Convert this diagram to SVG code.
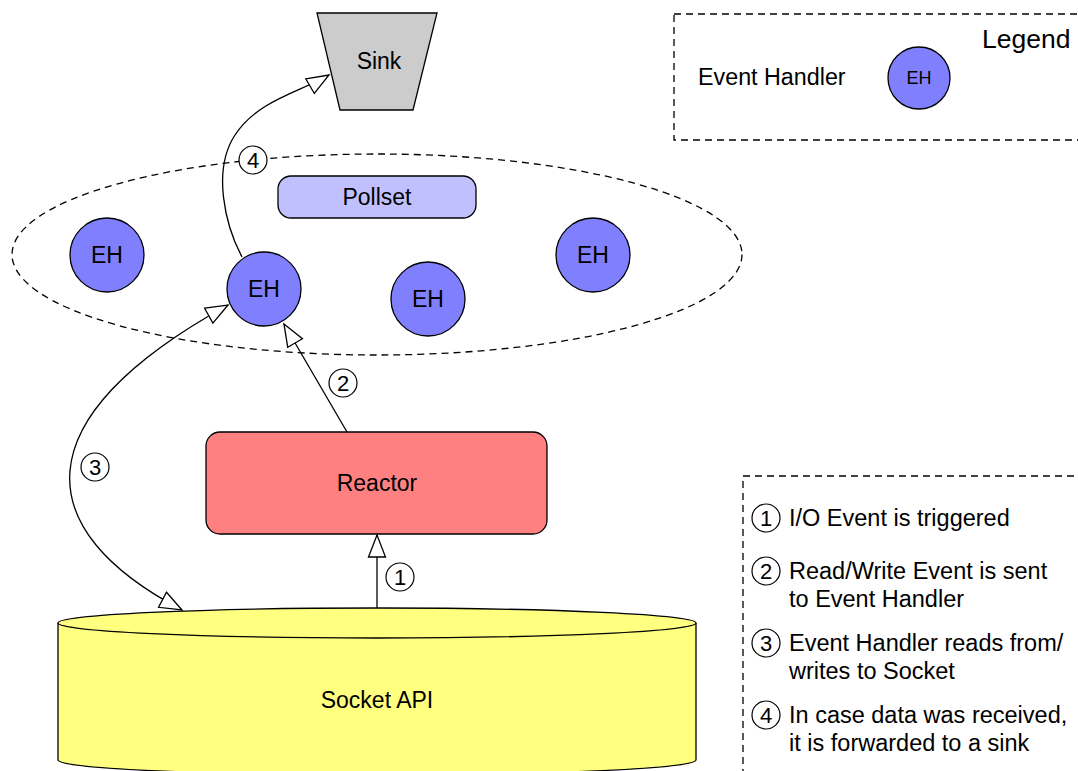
<svg xmlns="http://www.w3.org/2000/svg" width="1078" height="771" viewBox="0 0 1078 771">
  <style>
    text { font-family: "Liberation Sans", Arial, sans-serif; fill: #000; }
    .lbl { font-size: 23px; text-anchor: middle; dominant-baseline: central; }
    .eh { fill: #8080ff; stroke: #000; stroke-width: 1.3; }
    .dash { fill: none; stroke: #000; stroke-width: 1.3; stroke-dasharray: 7 5; }
    .conn { fill: none; stroke: #000; stroke-width: 1.3; }
    .num { fill: #fff; stroke: #000; stroke-width: 1.2; }
    .numt { font-size: 22px; text-anchor: middle; dominant-baseline: central; }
    .note { font-size: 23.5px; }
  </style>
  <defs>
    <marker id="arr" markerUnits="userSpaceOnUse" markerWidth="26" markerHeight="22" viewBox="0 0 26 22" refX="23" refY="10" orient="auto-start-reverse">
      <path d="M1,1.5 L23,10 L1,18.5 z" fill="#fff" stroke="#000" stroke-width="1.3"/>
    </marker>
  </defs>
  <rect width="1078" height="771" fill="#fff"/>

  <g id="pollset-group">
    <ellipse cx="377" cy="254.5" rx="365" ry="100.5" class="dash"/>
  </g>

  <g id="legend">
    <rect x="674" y="14" width="430" height="126" class="dash"/>
    <text x="982" y="48" style="font-size:26.5px">Legend</text>
    <text x="698" y="85" style="font-size:23.3px">Event Handler</text>
    <circle cx="919" cy="78" r="31" class="eh"/>
    <text x="919" y="78" class="lbl" style="font-size:18px">EH</text>
  </g>

  <g id="notes">
    <rect x="743" y="476" width="400" height="320" class="dash"/>
    <circle cx="766" cy="518" r="14" class="num"/><text x="766" y="518" class="numt">1</text>
    <text x="789" y="526" class="note">I/O Event is triggered</text>
    <circle cx="766" cy="571" r="14" class="num"/><text x="766" y="571" class="numt">2</text>
    <text x="789" y="579" class="note">Read/Write Event is sent</text>
    <text x="789" y="607" class="note">to Event Handler</text>
    <circle cx="766" cy="643" r="14" class="num"/><text x="766" y="643" class="numt">3</text>
    <text x="789" y="651" class="note">Event Handler reads from/</text>
    <text x="789" y="679" class="note">writes to Socket</text>
    <circle cx="766" cy="715" r="14" class="num"/><text x="766" y="715" class="numt">4</text>
    <text x="789" y="723" class="note">In case data was received,</text>
    <text x="789" y="751" class="note">it is forwarded to a sink</text>
  </g>

  <g id="sink">
    <polygon points="317,13 437,13 413,110 340,110" fill="#cccccc" stroke="#000" stroke-width="1.3"/>
    <text x="379" y="61" class="lbl">Sink</text>
  </g>

  <g id="pollset">
    <rect x="278" y="176" width="198" height="42" rx="13" fill="#c0c0ff" stroke="#000" stroke-width="1.3"/>
    <text x="377" y="197" class="lbl">Pollset</text>
  </g>

  <g id="eh1"><circle cx="107" cy="255" r="37" class="eh"/><text x="107" y="255" class="lbl">EH</text></g>
  <g id="eh2"><circle cx="264" cy="289" r="37" class="eh"/><text x="264" y="289" class="lbl">EH</text></g>
  <g id="eh3"><circle cx="428" cy="299" r="37" class="eh"/><text x="428" y="299" class="lbl">EH</text></g>
  <g id="eh4"><circle cx="593" cy="255" r="37" class="eh"/><text x="593" y="255" class="lbl">EH</text></g>

  <g id="reactor">
    <rect x="206" y="432" width="341" height="102" rx="14" fill="#ff8080" stroke="#000" stroke-width="1.3"/>
    <text x="377" y="483" class="lbl">Reactor</text>
  </g>

  <g id="socket-api">
    <path d="M58,623 L58,760 A319,15 0 0 0 696,760 L696,623" fill="#ffff80" stroke="#000" stroke-width="1.3"/>
    <ellipse cx="377" cy="623" rx="319" ry="15" fill="#ffff80" stroke="#000" stroke-width="1.3"/>
    <text x="377" y="700" class="lbl">Socket API</text>
  </g>

  <g id="connectors">
    <path d="M377,608 L377,535" class="conn" marker-end="url(#arr)"/>
    <path d="M347,432 L284,324" class="conn" marker-end="url(#arr)"/>
    <path d="M228,305 C20,420 30,530 182,610" class="conn" marker-start="url(#arr)" marker-end="url(#arr)"/>
    <path d="M242,257 C225,225 212,170 235,135 S300,92 329,75" class="conn" marker-end="url(#arr)"/>
    <circle cx="400" cy="577" r="14" class="num"/><text x="400" y="577" class="numt">1</text>
    <circle cx="343" cy="383" r="14" class="num"/><text x="343" y="383" class="numt">2</text>
    <circle cx="95" cy="467" r="14" class="num"/><text x="95" y="467" class="numt">3</text>
    <circle cx="253" cy="160" r="14" class="num"/><text x="253" y="160" class="numt">4</text>
  </g>
</svg>
